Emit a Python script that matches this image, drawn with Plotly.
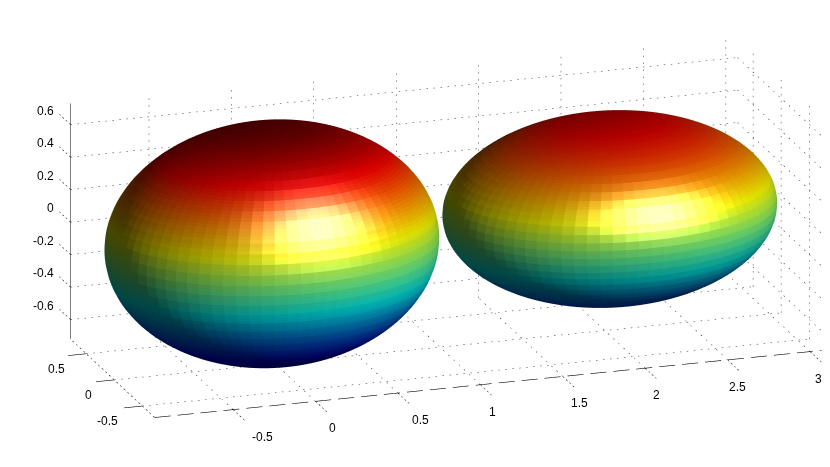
import numpy as np
import plotly.graph_objects as go

# tick values
x_ticks = [-0.5, 0, 0.5, 1, 1.5, 2, 2.5, 3]
y_ticks = [-0.5, 0, 0.5]
z_ticks = [-0.6, -0.4, -0.2, 0, 0.2, 0.4, 0.6]
# drawn box limits
x_lim = [-0.976, 3.07]
y_lim = [-0.72, 0.78]
z_lim = [-0.72, 0.73]
# ellipsoids: centre and semi axes
centres = [[-0.02, 0.0, 0.02], [2.03, 0.0, 0.025]]
semi_axes = [[0.983, 0.75, 0.72], [0.983, 0.75, 0.55]]

PAD = 0.35
S = 0.0043
SCALE = np.array([172.8 * S, 179 * S, 170 * S])
PX = 233.0
VIEW = np.array([-0.297, -0.904, 0.306])
RIGHT = np.array([0.95, -0.312, 0.0])
UP = np.array([0.095, 0.29, 0.952])
LIGHT = np.array([0.6, 0.3, 0.74])
KA, KD, KS, SHINE = 0.28, 0.62, 0.8, 30
X_LABEL_DX = [11, -1, 5, -6, -1, -7, -8, -10]
Y_LABEL_DX = [-10, -1, -5]
JET = [(0, (0, 0, 143)), (0.125, (0, 0, 255)), (0.375, (0, 255, 255)),
       (0.625, (255, 255, 0)), (0.875, (255, 0, 0)), (1, (128, 0, 0))]
jet_t = [p[0] for p in JET]
jet_rgb = np.array([p[1] for p in JET], float)

L_world = LIGHT[0] * RIGHT + LIGHT[1] * UP + LIGHT[2] * VIEW
L_world = L_world / np.linalg.norm(L_world)
H_world = L_world + VIEW
H_world = H_world / np.linalg.norm(H_world)

def ellipsoid(c, r, nshade=36, sub=3, nlon=80):
    nlat = nshade * sub
    th = np.linspace(0, np.pi, nlat + 1)
    ph = np.linspace(0, 2 * np.pi, nlon + 1)[:-1]
    T, P = np.meshgrid(th, ph, indexing="ij")
    X = (c[0] + r[0] * np.sin(T) * np.cos(P)).ravel()
    Y = (c[1] + r[1] * np.sin(T) * np.sin(P)).ravel()
    Z = (c[2] + r[2] * np.cos(T)).ravel()
    I, J, K, colors = [], [], [], []
    zmin, zmax = -0.73, 0.73
    dth = th[1] - th[0]
    dph = ph[1] - ph[0]
    for a in range(nlat):
        # the normal stays constant over each coarse facet, the colour follows the height
        tn = (a // sub + 0.5) * sub * dth
        tm = th[a] + dth / 2
        t = (c[2] + r[2] * np.cos(tm) - zmin) / (zmax - zmin)
        base = np.array([np.interp(t, jet_t, jet_rgb[:, i]) for i in range(3)])
        for b in range(nlon):
            p0 = a * nlon + b
            p1 = a * nlon + (b + 1) % nlon
            p2 = p0 + nlon
            p3 = p1 + nlon
            pm = ph[b] + dph / 2
            n = np.array([np.sin(tn) * np.cos(pm) / r[0], np.sin(tn) * np.sin(pm) / r[1], np.cos(tn) / r[2]])
            n = n / np.linalg.norm(n)
            shade = KA + KD * max(n @ L_world, 0.0)
            spec = KS * max(n @ H_world, 0.0) ** SHINE
            col = np.clip(base * shade + 255 * spec, 0, 255).astype(int)
            s = f"rgb({col[0]},{col[1]},{col[2]})"
            I += [p0, p1]
            J += [p2, p2]
            K += [p1, p3]
            colors += [s, s]
    return X, Y, Z, I, J, K, colors

fig = go.Figure()
for c, r in zip(centres, semi_axes):
    X, Y, Z, I, J, K, colors = ellipsoid(c, r)
    fig.add_trace(go.Mesh3d(
        x=X, y=Y, z=Z, i=I, j=J, k=K, facecolor=colors, flatshading=True,
        lighting=dict(ambient=1, diffuse=0, specular=0, roughness=1, fresnel=0), hoverinfo="skip"))

def px_len(a, b):
    d = (np.array(b, float) - np.array(a, float)) * SCALE * PX
    return np.hypot(d @ RIGHT, d @ UP)

def add_lines(segs, on=None, off=None, width=1, color="#222222"):
    xs, ys, zs = [], [], []
    for a, b in segs:
        a = np.array(a, float)
        b = np.array(b, float)
        if on is None:
            pieces = [(a, b)]
        else:
            L = px_len(a, b)
            starts = np.arange(0, L, on + off)
            pieces = [(a + (b - a) * s / L, a + (b - a) * min(s + on, L) / L) for s in starts]
        for p, q in pieces:
            xs += [p[0], q[0], None]
            ys += [p[1], q[1], None]
            zs += [p[2], q[2], None]
    fig.add_trace(go.Scatter3d(x=xs, y=ys, z=zs, mode="lines", hoverinfo="skip",
                               line=dict(color=color, width=width), showlegend=False))

x0, x1 = x_lim
y0, y1 = y_lim
z0, z1 = z_lim
grid = []
for x in x_ticks:
    grid.append(((x, y0, z0), (x, y1, z0)))
    grid.append(((x, y1, z0), (x, y1, z1)))
for y in y_ticks:
    grid.append(((x0, y, z0), (x1, y, z0)))
    grid.append(((x1, y, z0), (x1, y, z1)))
for z in z_ticks:
    grid.append(((x0, y1, z), (x1, y1, z)))
    grid.append(((x1, y1, z), (x1, y0, z)))
add_lines(grid, on=1.5, off=5.5, width=1, color="#222222")
add_lines([((x0, y1, z0), (x0, y1, z1))], width=1.2, color="#000000")
add_lines([((x0, y0, z0), (x1, y0, z0))], on=16, off=7, width=1.2, color="#000000")
add_lines([((x0, y0, z0), (x0, y1, z0))], on=2, off=3, width=1, color="#000000")
add_lines([((x, y0, z0), (x, y0 - 0.2, z0)) for x in x_ticks], on=2, off=2.5, width=1, color="#000000")
add_lines([((x0, y, z0), (x0 - 0.11, y, z0)) for y in y_ticks], width=1.2, color="#000000")
add_lines([((x0, y1, z), (x0, y1 + 0.2, z)) for z in z_ticks], on=2, off=2.5, width=1, color="#000000")

font = dict(family="Liberation Sans", size=12, color="#000000")
ann = []
for x, dx in zip(x_ticks, X_LABEL_DX):
    ann.append(dict(x=x, y=y0, z=z0, text=str(x), showarrow=False, xshift=18 + dx, yshift=-27, font=font))
for y, dx in zip(y_ticks, Y_LABEL_DX):
    ann.append(dict(x=x0, y=y, z=z0, text=str(y), showarrow=False, xshift=-25 + dx, yshift=-15, font=font))
for z in z_ticks:
    ann.append(dict(x=x0, y=y1, z=z, text=str(z), showarrow=False, xanchor="right", xshift=-15, yshift=14, font=font))

ax = dict(visible=False)
ranges = [[x0 - PAD, x1 + PAD], [y0 - PAD, y1 + PAD], [z0 - PAD, z1 + PAD]]
aspect = [(rg[1] - rg[0]) * s for rg, s in zip(ranges, SCALE)]
shift = -(23 / PX) * RIGHT - (14.5 / PX) * UP
eye = VIEW * 2 + shift
fig.update_layout(
    width=830, height=467, margin=dict(l=0, r=0, t=0, b=0), paper_bgcolor="white",
    showlegend=False,
    scene=dict(
        domain=dict(x=[0, 1], y=[0, 1]),
        xaxis=dict(ax, range=ranges[0]), yaxis=dict(ax, range=ranges[1]), zaxis=dict(ax, range=ranges[2]),
        aspectmode="manual", aspectratio=dict(x=aspect[0], y=aspect[1], z=aspect[2]),
        camera=dict(eye=dict(x=eye[0], y=eye[1], z=eye[2]),
                    center=dict(x=shift[0], y=shift[1], z=shift[2]),
                    up=dict(x=0, y=0, z=1), projection=dict(type="orthographic")),
        annotations=ann, bgcolor="white"))
fig.write_html("out.html")
